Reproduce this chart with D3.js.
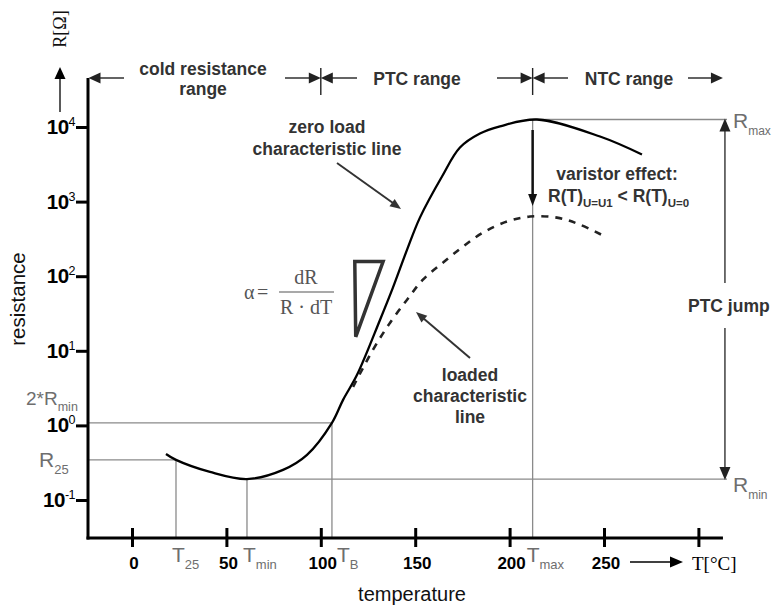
<!DOCTYPE html>
<html>
<head>
<meta charset="utf-8">
<script src="https://cdn.jsdelivr.net/npm/d3@7"></script>
<style>
  body { margin: 0; background: #fff; }
  svg { display: block; }
  .bold { font-family: "Liberation Sans", Arial, sans-serif; font-weight: bold; }
  .sans { font-family: "Liberation Sans", Arial, sans-serif; }
  .serif { font-family: "Liberation Serif", "Times New Roman", serif; }
</style>
</head>
<body>
<svg id="chart" width="772" height="607"></svg>
<script>
// Temperature axis ticks (°C); the last tick carries the unit label
const tempTicks = [0, 50, 100, 150, 200, 250];
const unitTick = 300;
// Resistance decades (exponents of ten)
const decadeExponents = [-1, 0, 1, 2, 3, 4];

// Zero-load characteristic line
const zeroLoadT = [18, 23.3, 41.3, 60.9, 80, 92.7, 105.9, 111.8, 119.2, 131.4, 138.2, 145.7, 152.5, 164.2, 173.7, 184.3, 194.9, 214.5, 247.9, 270.1];
const zeroLoadR = [0.414, 0.345, 0.238, 0.191, 0.253, 0.402, 1.08, 2.2, 4.76, 26.1, 70.2, 227, 610, 2170, 5310, 8180, 10200, 12600, 7450, 4280];

// Loaded characteristic line (varistor effect lowers the curve)
const loadedT = [117.1, 127.6, 136.7, 145.7, 154.1, 164.7, 175.3, 185.9, 198.6, 210.8, 225.1, 237.3, 251.6];
const loadedR = [3.29, 10.3, 23.8, 48.4, 89.8, 152, 249, 384, 540, 630, 610, 491, 329];

// Characteristic temperatures (°C) and resistances
const T25 = 23.3, Tmin = 60.9, TB = 105.9, Tmax = 212.2;
const R25 = 0.345, Rmin = 0.191, R2min = 1.08, Rmax = 12600;
// Range boundaries and axis extent (°C)
const coldEnd = 100, ptcEnd = Tmax, tempAxisEnd = 313;

// Slope triangle next to the steep PTC section (°C, Ω)
const slopeTriangle = [[118, 157], [133, 157], [118.5, 15.4]];

const svg = d3.select("#chart");
const x = d3.scaleLinear().domain([0, 250]).range([132, 604]);
const y = d3.scaleLog().domain([0.1, 1e4]).range([500, 127]);

const axisX0 = 88, axisY0 = 538, axisTop = 78;
const grey = "#8a8a8a", labelGrey = "#6e6e6e", ink = "#333";

function arrowHead(tx, ty, angle, len = 12, half = 5.5, color = "#222") {
  const dx = Math.cos(angle), dy = Math.sin(angle);
  const bx = tx - len * dx, by = ty - len * dy;
  const pts = [[tx, ty], [bx - half * dy, by + half * dx], [bx + half * dy, by - half * dx]];
  svg.append("polygon").attr("points", pts.map(p => p.join(",")).join(" ")).attr("fill", color);
}
function line(x1, y1, x2, y2, color, w) {
  svg.append("line").attr("x1", x1).attr("y1", y1).attr("x2", x2).attr("y2", y2)
    .attr("stroke", color).attr("stroke-width", w);
}

// ---- thin reference lines ----
line(axisX0, y(R2min), x(TB), y(R2min), grey, 1.3);
line(axisX0, y(R25), x(T25), y(R25), grey, 1.3);
line(x(T25), y(R25), x(T25), axisY0, grey, 1.3);
line(x(Tmin), y(Rmin), x(Tmin), axisY0, grey, 1.3);
line(x(TB), y(R2min), x(TB), axisY0, grey, 1.3);
line(x(Tmax), y(Rmax), x(Tmax), axisY0, grey, 1.3);
line(x(Tmin), y(Rmin), 727, y(Rmin), grey, 1.3);
line(x(Tmax), y(Rmax), 727, y(Rmax), grey, 1.3);

// ---- PTC jump double arrow ----
const jumpX = x(tempAxisEnd) + 2;
line(jumpX, y(Rmax) + 8, jumpX, 283, "#222", 1.3);
line(jumpX, 328, jumpX, y(Rmin) - 8, "#222", 1.3);
arrowHead(jumpX, y(Rmax) - 1, -Math.PI / 2, 13, 5.5);
arrowHead(jumpX, y(Rmin) + 1, Math.PI / 2, 13, 5.5);
svg.append("text").attr("class", "bold").attr("x", 688).attr("y", 312)
  .attr("font-size", 17.5).attr("fill", ink).text("PTC jump");

// ---- characteristic curves ----
const zeroLoad = zeroLoadT.map((t, i) => ({ T: t, R: zeroLoadR[i] }));
const loaded = loadedT.map((t, i) => ({ T: t, R: loadedR[i] }));
const curve = d3.line().x(d => x(d.T)).y(d => y(d.R)).curve(d3.curveCatmullRom.alpha(0.5));
svg.append("path").attr("d", curve(zeroLoad)).attr("fill", "none")
  .attr("stroke", "#000").attr("stroke-width", 2.3);
svg.append("path").attr("d", curve(loaded)).attr("fill", "none")
  .attr("stroke", "#222").attr("stroke-width", 2.6).attr("stroke-dasharray", "7,7");

// slope triangle
svg.append("polygon")
  .attr("points", slopeTriangle.map(d => [x(d[0]), y(d[1])].join(",")).join(" "))
  .attr("fill", "none").attr("stroke", "#333").attr("stroke-width", 3.5)
  .attr("stroke-linejoin", "miter");

// ---- axes ----
line(axisX0, axisY0 + 1.5, axisX0, axisTop, "#000", 3);
line(axisX0 - 1.5, axisY0, x(tempAxisEnd), axisY0, "#000", 3);

const yAxis = d3.axisLeft(y).tickValues(decadeExponents.map(e => Math.pow(10, e)))
  .tickSize(12).tickFormat("");
const gy = svg.append("g").attr("transform", `translate(${axisX0},0)`).call(yAxis);
gy.select(".domain").remove();
gy.selectAll(".tick line").attr("stroke", "#000").attr("stroke-width", 3);

const xAxis = d3.axisBottom(x).tickValues(tempTicks.concat([unitTick]))
  .tickSize(19).tickFormat("");
const gx = svg.append("g").attr("transform", `translate(0,${axisY0 - 10})`).call(xAxis);
gx.select(".domain").remove();
gx.selectAll(".tick line").attr("stroke", "#000").attr("stroke-width", 3);

// y tick labels 10^n
decadeExponents.forEach(e => {
  const t = svg.append("text").attr("class", "bold").attr("x", 75).attr("y", y(Math.pow(10, e)) + 7)
    .attr("text-anchor", "end").attr("fill", "#000").attr("font-size", 20.5).attr("letter-spacing", -0.5);
  t.append("tspan").text("10");
  t.append("tspan").attr("font-size", 12.5).attr("dy", -8).attr("font-weight", "normal").text(String(e));
});

// x tick labels
tempTicks.forEach(v => {
  svg.append("text").attr("class", "bold").attr("x", x(v) + 2).attr("y", 569)
    .attr("text-anchor", "middle").attr("font-size", 17).attr("fill", "#000").text(v);
});

// unit arrow and label
line(630, 562, 672, 562, "#000", 1.5);
arrowHead(683, 562, 0, 13, 5.5, "#000");
svg.append("text").attr("class", "serif").attr("x", 692).attr("y", 570)
  .attr("font-size", 19).attr("fill", "#000").text("T[°C]");

// axis titles
svg.append("text").attr("class", "sans").attr("x", 412).attr("y", 601)
  .attr("text-anchor", "middle").attr("font-size", 20).attr("fill", "#111").text("temperature");
svg.append("text").attr("class", "sans").attr("transform", "translate(25,299) rotate(-90)")
  .attr("text-anchor", "middle").attr("font-size", 20.5).attr("fill", "#111").text("resistance");
svg.append("text").attr("class", "serif").attr("transform", "translate(66,29) rotate(-90)")
  .attr("text-anchor", "middle").attr("font-size", 18).attr("fill", "#111").text("R[Ω]");
line(60, 112, 60, 78, "#000", 1.3);
arrowHead(60, 67, -Math.PI / 2, 12, 5.5, "#000");

// ---- grey subscript labels ----
function subLabel(xp, yp, main, sub, anchor = "start", size = 21, subSize = 13, drop = 7) {
  const t = svg.append("text").attr("class", "sans").attr("x", xp).attr("y", yp)
    .attr("text-anchor", anchor).attr("fill", labelGrey).attr("font-size", size);
  t.append("tspan").text(main);
  t.append("tspan").attr("font-size", subSize).attr("dy", drop).text(sub);
}
subLabel(26, 405, "2*R", "min", "start", 19, 12.5, 5.5);
subLabel(39, 467, "R", "25");
subLabel(733, 128, "R", "max", "start", 21, 12);
subLabel(733, 492, "R", "min", "start", 21, 12);
subLabel(x(T25) - 4, 562, "T", "25");
subLabel(x(Tmin) - 4, 562, "T", "min");
subLabel(x(TB) + 5, 562, "T", "B");
subLabel(x(Tmax) - 6, 562, "T", "max");

// ---- range bracket row ----
const rowY = axisTop;
function rangeText(cx, lines) {
  lines.forEach((s, i) => {
    svg.append("text").attr("class", "bold").attr("x", cx).attr("y", rowY - 3 + i * 20)
      .attr("text-anchor", "middle").attr("font-size", 17.5).attr("fill", ink).text(s);
  });
}
line(axisX0 + 10, rowY, 124, rowY, "#222", 1.4);
arrowHead(axisX0 + 0.5, rowY, Math.PI, 12, 5.5);
rangeText(203, ["cold resistance", "range"]);

const b1 = x(coldEnd), b2 = x(ptcEnd);
line(285, rowY, b1 - 8, rowY, "#222", 1.4);
arrowHead(b1, rowY, 0, 12, 5.5);
line(b1, rowY - 10, b1, rowY + 17, "#222", 1.4);
arrowHead(b1, rowY, Math.PI, 12, 5.5);
line(b1 + 8, rowY, 357, rowY, "#222", 1.4);
svg.append("text").attr("class", "bold").attr("x", 417).attr("y", rowY + 7)
  .attr("text-anchor", "middle").attr("font-size", 17.5).attr("fill", ink).text("PTC range");

line(497, rowY, b2 - 8, rowY, "#222", 1.4);
arrowHead(b2, rowY, 0, 12, 5.5);
line(b2, rowY - 10, b2, rowY + 17, "#222", 1.4);
arrowHead(b2, rowY, Math.PI, 12, 5.5);
line(b2 + 8, rowY, 568, rowY, "#222", 1.4);
svg.append("text").attr("class", "bold").attr("x", 629).attr("y", rowY + 7)
  .attr("text-anchor", "middle").attr("font-size", 17.5).attr("fill", ink).text("NTC range");
line(688, rowY, 713, rowY, "#222", 1.4);
arrowHead(x(tempAxisEnd), rowY, 0, 12, 5.5);

// ---- annotations ----
function multiText(cx, y0, lines, step) {
  lines.forEach((s, i) => {
    svg.append("text").attr("class", "bold").attr("x", cx).attr("y", y0 + i * step)
      .attr("text-anchor", "middle").attr("font-size", 17.5).attr("fill", ink).text(s);
  });
}
multiText(327, 133, ["zero load", "characteristic line"], 22);
line(337, 163, 393, 203, ink, 2);
arrowHead(401, 209, Math.atan2(46, 64), 11, 4.5, ink);

multiText(470, 381, ["loaded", "characteristic", "line"], 21);
line(470, 358, 423, 318, ink, 2);
arrowHead(416, 312, Math.atan2(-46, -54), 11, 4.5, ink);

// varistor effect
line(x(Tmax), 130, x(Tmax), 195, "#111", 2.5);
arrowHead(x(Tmax), 206, Math.PI / 2, 12, 4.5, "#111");
svg.append("text").attr("class", "bold").attr("x", 617).attr("y", 180)
  .attr("text-anchor", "middle").attr("font-size", 17.5).attr("fill", ink).text("varistor effect:");
const ve = svg.append("text").attr("class", "bold").attr("x", 548).attr("y", 202)
  .attr("font-size", 17.5).attr("fill", ink);
ve.append("tspan").text("R(T)");
ve.append("tspan").attr("font-size", 11.5).attr("dy", 5).text("U=U1");
ve.append("tspan").attr("dy", -5).text(" < R(T)");
ve.append("tspan").attr("font-size", 11.5).attr("dy", 5).text("U=0");

// slope formula
const f = svg.append("g").attr("class", "serif").attr("fill", "#555").attr("font-size", 20);
f.append("text").attr("x", 244).attr("y", 299).text("α");
f.append("text").attr("x", 257).attr("y", 299).text("=");
f.append("line").attr("x1", 279).attr("y1", 292).attr("x2", 334).attr("y2", 292)
  .attr("stroke", "#555").attr("stroke-width", 1.2);
f.append("text").attr("x", 306).attr("y", 284).attr("text-anchor", "middle").text("dR");
f.append("text").attr("x", 306).attr("y", 314).attr("text-anchor", "middle").text("R · dT");
</script>
</body>
</html>
